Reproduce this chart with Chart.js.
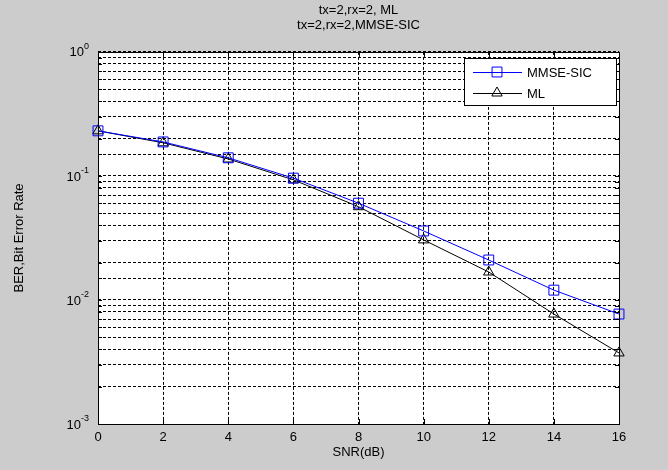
<!DOCTYPE html>
<html>
<head>
<meta charset="utf-8">
<script src="https://cdn.jsdelivr.net/npm/chart.js@4.4.0/dist/chart.umd.min.js"></script>
<style>
    html, body { margin: 0; padding: 0; background: #cccccc; }
</style>
</head>
<body>
<canvas id="grafico" width="668" height="470"></canvas>
<script>
const snr = [0, 2, 4, 6, 8, 10, 12, 14, 16];
const berMmseSic = [0.231, 0.188, 0.140, 0.096, 0.0603, 0.036, 0.021, 0.012, 0.0077];
const berMl = [0.231, 0.185, 0.137, 0.093, 0.0565, 0.0305, 0.0168, 0.0077, 0.00374];
const titoli = ["tx=2,rx=2, ML", "tx=2,rx=2,MMSE-SIC"];
const decadi = [1, 0.1, 0.01, 0.001];
const esponenti = ["0", "-1", "-2", "-3"];

const FONT = "'Liberation Sans', Arial, sans-serif";
Chart.defaults.font.family = FONT;
Chart.defaults.font.size = 13;
Chart.defaults.color = "#000";

function punti(ys) {
    return snr.map((x, i) => ({ x: x, y: ys[i] }));
}

// sfondo grigio, riquadro bianco, bordo, tacche interne, etichette 10^n, legenda
const stileMatlab = {
    id: "stileMatlab",
    beforeDraw(chart) {
        const ctx = chart.ctx;
        const a = chart.chartArea;
        ctx.save();
        ctx.fillStyle = "#cccccc";
        ctx.fillRect(0, 0, chart.width, chart.height);
        ctx.fillStyle = "#ffffff";
        ctx.fillRect(a.left, a.top, a.right - a.left, a.bottom - a.top);
        ctx.restore();
    },
    afterDraw(chart) {
        const ctx = chart.ctx;
        const a = chart.chartArea;
        const sx = chart.scales.x;
        const sy = chart.scales.y;
        ctx.save();
        ctx.strokeStyle = "#000";
        ctx.lineWidth = 1;
        ctx.setLineDash([]);

        // tacche
        ctx.beginPath();
        sy.ticks.forEach((t) => {
            const y = Math.round(sy.getPixelForValue(t.value)) + 0.5;
            ctx.moveTo(a.left, y); ctx.lineTo(a.left + 4, y);
            ctx.moveTo(a.right, y); ctx.lineTo(a.right - 4, y);
        });
        sx.ticks.forEach((t) => {
            const x = Math.round(sx.getPixelForValue(t.value)) + 0.5;
            ctx.moveTo(x, a.bottom); ctx.lineTo(x, a.bottom - 5);
            ctx.moveTo(x, a.top); ctx.lineTo(x, a.top + 5);
        });
        ctx.stroke();

        // bordo
        ctx.strokeRect(Math.round(a.left) + 0.5, Math.round(a.top) + 0.5,
            Math.round(a.right - a.left), Math.round(a.bottom - a.top));

        // etichette asse y
        ctx.fillStyle = "#000";
        decadi.forEach((v, i) => {
            const y = sy.getPixelForValue(v);
            ctx.font = "9px " + FONT;
            const we = ctx.measureText(esponenti[i]).width;
            ctx.textAlign = "left";
            ctx.textBaseline = "alphabetic";
            const xe = a.left - 9 - we;
            ctx.fillText(esponenti[i], xe, y - 3);
            ctx.font = "13px " + FONT;
            ctx.textAlign = "right";
            ctx.textBaseline = "middle";
            ctx.fillText("10", xe, y + 1);
        });

        // legenda
        const bx = 464, by = 58, bw = 152, bh = 47;
        ctx.fillStyle = "#fff";
        ctx.fillRect(bx, by, bw, bh);
        ctx.strokeRect(bx + 0.5, by + 0.5, bw, bh);
        chart.data.datasets.forEach((ds, i) => {
            const y = by + 14 + i * 21;
            ctx.strokeStyle = ds.borderColor;
            ctx.beginPath();
            ctx.moveTo(bx + 9, y + 0.5);
            ctx.lineTo(bx + 58, y + 0.5);
            ctx.stroke();
            ctx.fillStyle = "rgba(0,0,0,0)";
            Chart.helpers.drawPoint(ctx, {
                pointStyle: ds.pointStyle,
                radius: ds.pointRadius,
                borderWidth: 1
            }, bx + 33, y);
            ctx.fillStyle = "#000";
            ctx.font = "13px " + FONT;
            ctx.textAlign = "left";
            ctx.textBaseline = "middle";
            ctx.fillText(ds.label, bx + 63, y + 1);
        });
        ctx.restore();
    }
};

const ctx = document.getElementById("grafico").getContext("2d");
new Chart(ctx, {
    type: "line",
    data: {
        datasets: [
            {
                label: "MMSE-SIC",
                data: punti(berMmseSic),
                borderColor: "#0000ff",
                backgroundColor: "rgba(0,0,0,0)",
                borderWidth: 1,
                pointStyle: "rect",
                pointRadius: 7,
                pointBorderWidth: 1,
                pointBackgroundColor: "rgba(0,0,0,0)",
                pointBorderColor: "#0000ff",
                tension: 0,
                clip: false
            },
            {
                label: "ML",
                data: punti(berMl),
                borderColor: "#000000",
                backgroundColor: "rgba(0,0,0,0)",
                borderWidth: 1,
                pointStyle: "triangle",
                pointRadius: 6,
                pointBorderWidth: 1,
                pointBackgroundColor: "rgba(0,0,0,0)",
                pointBorderColor: "#000000",
                tension: 0,
                clip: false
            }
        ]
    },
    plugins: [stileMatlab],
    options: {
        responsive: false,
        animation: false,
        parsing: false,
        layout: { padding: { left: 0, right: 49, top: 0, bottom: 0 } },
        plugins: {
            legend: { display: false },
            tooltip: { enabled: false },
            title: {
                display: true,
                fullSize: false,
                text: titoli,
                color: "#000",
                font: { size: 13, weight: "normal", lineHeight: 1.15 },
                padding: { top: 3, bottom: 19 }
            }
        },
        scales: {
            x: {
                type: "linear",
                min: 0,
                max: 16,
                afterFit: (s) => { s.height = 46; },
                ticks: { stepSize: 2, padding: 6, color: "#000", font: { size: 13 } },
                grid: { color: "#000", lineWidth: 1, drawTicks: false },
                border: { display: false, dash: [3, 2] },
                title: { display: true, text: "SNR(dB)", color: "#000", font: { size: 13 }, padding: { top: 0, bottom: 10 } }
            },
            y: {
                type: "logarithmic",
                min: 0.001,
                max: 1,
                afterFit: (s) => { s.width = 98; },
                ticks: { autoSkip: false, callback: () => "" },
                grid: { color: "#000", lineWidth: 1, drawTicks: false },
                border: { display: false, dash: [3, 2] },
                title: { display: true, text: "BER,Bit Error Rate", color: "#000", font: { size: 13 }, padding: { top: 12, bottom: 0 } }
            }
        }
    }
});
</script>
</body>
</html>
